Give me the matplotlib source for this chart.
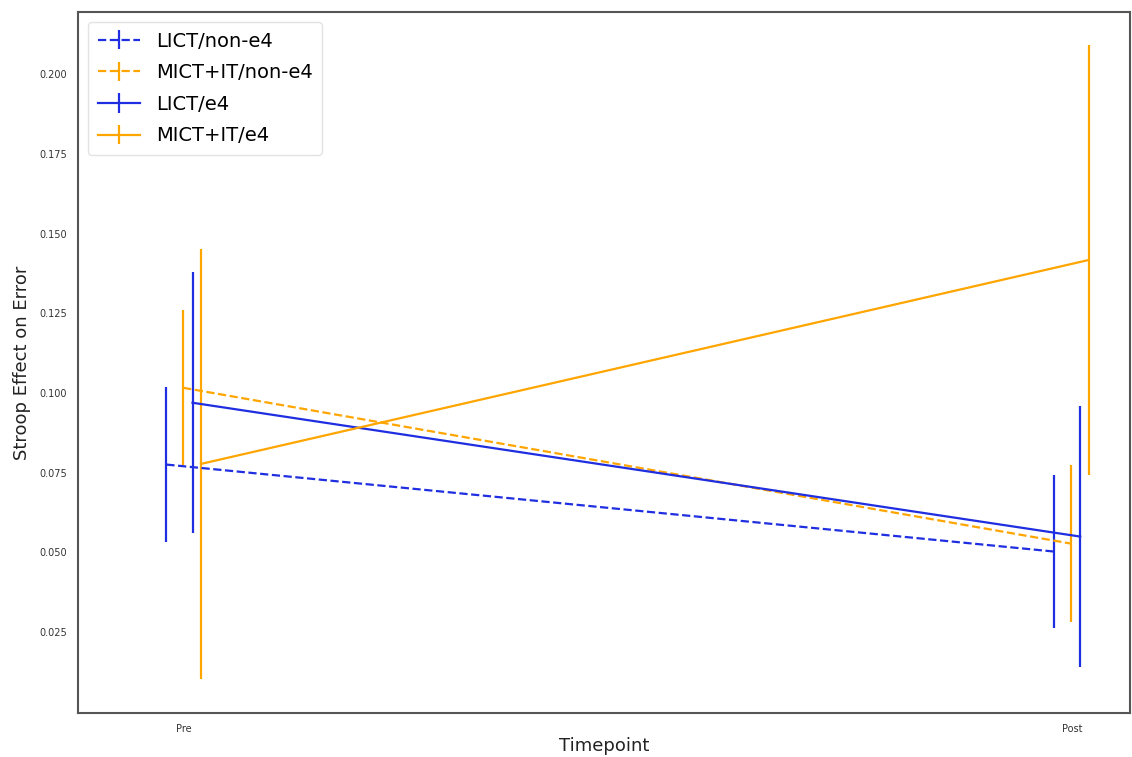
import matplotlib
matplotlib.use("Agg")
import matplotlib.pyplot as plt

timepoints = ["Pre", "Post"]
series_names = ["LICT/non-e4", "MICT+IT/non-e4", "LICT/e4", "MICT+IT/e4"]

# mean and error (half-length of bar) for each group, Pre then Post
lict_non_e4 = [0.0775, 0.0502]
lict_non_e4_err = [0.0242, 0.0241]
mict_non_e4 = [0.1016, 0.0527]
mict_non_e4_err = [0.0243, 0.0246]
lict_e4 = [0.0969, 0.0549]
lict_e4_err = [0.0410, 0.0410]
mict_e4 = [0.0777, 0.1417]
mict_e4_err = [0.0676, 0.0676]

means = [lict_non_e4, mict_non_e4, lict_e4, mict_e4]
errs = [lict_non_e4_err, mict_non_e4_err, lict_e4_err, mict_e4_err]
colors = ["#1f2ee0", "orange", "#1f2ee0", "orange"]
styles = ["--", "--", "-", "-"]
offsets = [-0.02, -0.001, 0.0095, 0.019]

fig = plt.figure(figsize=(11.32, 7.57), dpi=100)
ax = fig.add_axes([0.069, 0.058, 0.929, 0.926])

for name, m, e, c, ls, off in zip(series_names, means, errs, colors, styles, offsets):
    xs = [i + off for i in range(len(timepoints))]
    ax.errorbar(xs, m, yerr=e, color=c, linestyle=ls, linewidth=1.6,
                elinewidth=1.6, capsize=0, label=name)

ax.set_xticks(range(len(timepoints)))
ax.set_xticklabels(timepoints)
ax.set_xlim(-0.1194, 1.0653)
ax.set_ylim(-0.0005, 0.2195)
yt = [0.025, 0.05, 0.075, 0.1, 0.125, 0.15, 0.175, 0.2]
ax.set_yticks(yt)
ax.set_yticklabels([f"{v:.3f}" for v in yt])
ax.tick_params(axis="both", length=0, labelsize=7, colors="#333333", pad=8)

for s in ax.spines.values():
    s.set_color("#555555")
    s.set_linewidth(1.5)

ax.set_xlabel("Timepoint", fontsize=13, color="#222222", labelpad=2)
ax.set_ylabel("Stroop Effect on Error", fontsize=13, color="#222222", labelpad=6)

leg = ax.legend(loc="upper left", fontsize=14, handlelength=2.2, borderpad=0.5,
                labelspacing=0.65, frameon=True)
leg.get_frame().set_edgecolor("#dddddd")

fig.savefig("out.png", dpi=100)
